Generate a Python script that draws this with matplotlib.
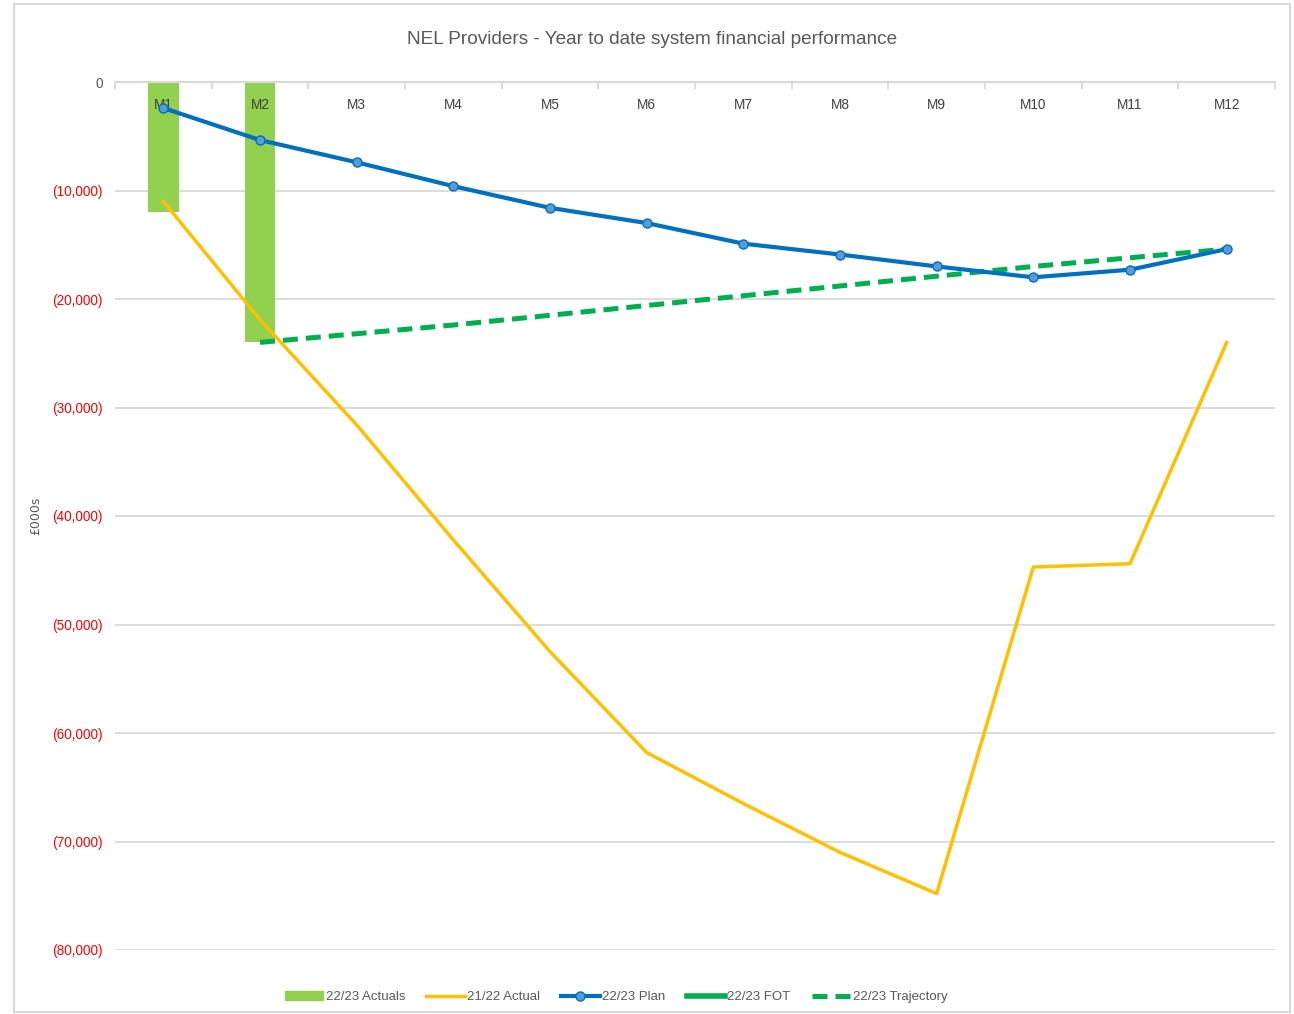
import numpy as np
import matplotlib
matplotlib.use("Agg")
import matplotlib.pyplot as plt
from matplotlib.lines import Line2D
from matplotlib.patches import Patch, Rectangle
from matplotlib.ticker import FuncFormatter

plt.rcParams['font.family'] = ['Liberation Sans Narrow', 'Liberation Sans', 'DejaVu Sans']

# data (£000s)
months = ['M1', 'M2', 'M3', 'M4', 'M5', 'M6', 'M7', 'M8', 'M9', 'M10', 'M11', 'M12']
actuals_2223 = [-12000, -24000]
actual_2122 = [-11000, -21900, -31600, -42200, -52500, -61800, -66500, -71000, -74800, -44700, -44400, -24000]
plan_2223 = [-2400, -5350, -7400, -9600, -11600, -13000, -14900, -15900, -17000, -18000, -17300, -15400]
trajectory_2223 = [np.nan, -24000, -23200, -22400, -21500, -20600, -19700, -18800, -17900, -17000, -16200, -15400]
fot_2223 = [np.nan] * 12

x = np.arange(len(months))

fig = plt.figure(figsize=(12.94, 10.14), dpi=100)
fig.patches.append(Rectangle((14 / 1294, 2 / 1014), 1276 / 1294, 1008 / 1014, transform=fig.transFigure,
                             fill=False, edgecolor='#d9d9d9', linewidth=1.5))
ax = fig.add_axes([115 / 1294, 1 - 950 / 1014, 1160 / 1294, 868 / 1014])

ax.bar(x[:len(actuals_2223)], actuals_2223, width=0.32, color='#92D050', zorder=2)
ax.plot(x, actual_2122, color='#FFC000', lw=2.5, zorder=3)
ax.plot(x, fot_2223, color='#00B050', lw=4, zorder=3)
ax.plot(x, trajectory_2223, color='#00B050', lw=3.6, dashes=(3, 1.6), zorder=4)
ax.plot(x, plan_2223, color='#0070C0', lw=3, marker='o', ms=6.5, mfc='#5B9BD5', mec='#0070C0', mew=1, zorder=5)

ax.set_xlim(-0.5, 11.5)
ax.set_ylim(-80000, 0)
ax.set_yticks(np.arange(-80000, 1, 10000))
ax.yaxis.set_major_formatter(FuncFormatter(lambda v, p: '0' if v == 0 else '({:,.0f})'.format(abs(v))))
ax.tick_params(axis='y', length=0, pad=9, labelsize=9.8)
for lab, v in zip(ax.get_yticklabels(), ax.get_yticks()):
    lab.set_color('#595959' if v == 0 else '#FF0000')
ax.grid(axis='y', color='#d9d9d9', lw=1.3, zorder=0)

# category axis sits along the zero line at top, labels just below it
ax.xaxis.set_ticks_position('top')
ax.set_xticks(np.arange(-0.5, 12, 1))
ax.tick_params(axis='x', length=5, color='#d9d9d9', width=1.3, direction='in', labeltop=False)
for xi, m in zip(x, months):
    ax.text(xi, 1 - 23 / 868, m, transform=ax.get_xaxis_transform(), ha='center', va='center',
            fontsize=9.8, color='#404040', zorder=4.5)
for s in ['left', 'right', 'bottom']:
    ax.spines[s].set_visible(False)
ax.spines['top'].set_color('#d9d9d9')
ax.spines['top'].set_linewidth(1.5)

ax.set_ylabel('£000s', family='DejaVu Sans', fontsize=9, color='#595959')
ax.yaxis.set_label_coords((42 - 115) / 1160, 0.5)
fig.text(652 / 1294, 1 - 40 / 1014, 'NEL Providers - Year to date system financial performance',
         ha='center', va='center', fontsize=13.7, color='#595959')

handles = [
    Patch(color='#92D050'),
    Line2D([], [], color='#FFC000', lw=2.5),
    Line2D([], [], color='#0070C0', lw=3, marker='o', ms=6.5, mfc='#5B9BD5', mec='#0070C0'),
    Line2D([], [], color='#00B050', lw=4),
    Line2D([], [], color='#00B050', lw=3.6, dashes=(3, 1.6)),
]
labels = ['22/23 Actuals', '21/22 Actual', '22/23 Plan', '22/23 FOT', '22/23 Trajectory']
fig.legend(handles, labels, loc='center', bbox_to_anchor=(616 / 1294, 1 - 997 / 1014), ncol=5,
           frameon=False, fontsize=9.5, handlelength=2.9, handletextpad=0.2, columnspacing=1.6,
           labelcolor='#595959')

fig.savefig('out.png', dpi=100)
